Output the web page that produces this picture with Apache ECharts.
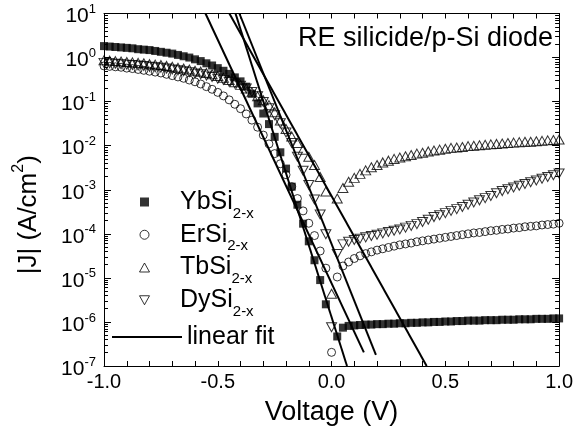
<!DOCTYPE html>
<html>
<head>
<meta charset="utf-8">
<script src="https://cdn.jsdelivr.net/npm/echarts@6/dist/echarts.min.js"></script>
<style>
  html, body { margin: 0; padding: 0; background: #fff; }
  #chart { width: 576px; height: 438px; }
</style>
</head>
<body>
<div id="chart"></div>
<script>
// voltage sweep (V), 0.025 V steps
var voltage = [-1, -0.975, -0.95, -0.925, -0.9, -0.875, -0.85, -0.825, -0.8, -0.775,
  -0.75, -0.725, -0.7, -0.675, -0.65, -0.625, -0.6, -0.575, -0.55, -0.525,
  -0.5, -0.475, -0.45, -0.425, -0.4, -0.375, -0.35, -0.325, -0.3, -0.275,
  -0.25, -0.225, -0.2, -0.175, -0.15, -0.125, -0.1, -0.075, -0.05, -0.025,
  0, 0.025, 0.05, 0.075, 0.1, 0.125, 0.15, 0.175, 0.2, 0.225,
  0.25, 0.275, 0.3, 0.325, 0.35, 0.375, 0.4, 0.425, 0.45, 0.475,
  0.5, 0.525, 0.55, 0.575, 0.6, 0.625, 0.65, 0.675, 0.7, 0.725,
  0.75, 0.775, 0.8, 0.825, 0.85, 0.875, 0.9, 0.925, 0.95, 0.975, 1];

// log10 |J| (null = off scale)
var ybLog = [0.26, 0.25, 0.24, 0.23, 0.22, 0.21, 0.19, 0.18, 0.17, 0.15,
  0.13, 0.11, 0.09, 0.06, 0.03, 0.00, -0.04, -0.08, -0.13, -0.18,
  -0.24, -0.30, -0.37, -0.45, -0.54, -0.66, -0.82, -1.04, -1.27, -1.51,
  -1.80, -2.15, -2.52, -2.93, -3.34, -3.77, -4.17, -4.60, -5.05, -5.60,
  null,
  -6.33, -6.13, -6.09, -6.08, -6.07, -6.06, -6.06, -6.05, -6.05, -6.04,
  -6.04, -6.03, -6.03, -6.02, -6.02, -6.01, -6.01, -6.00, -6.00, -5.99,
  -5.99, -5.98, -5.98, -5.97, -5.97, -5.97, -5.96, -5.96, -5.96, -5.95,
  -5.95, -5.95, -5.94, -5.94, -5.94, -5.93, -5.93, -5.93, -5.92, -5.92];

var erLog = [-0.19, -0.20, -0.21, -0.22, -0.24, -0.25, -0.27, -0.29, -0.31, -0.33,
  -0.35, -0.38, -0.41, -0.44, -0.47, -0.51, -0.55, -0.60, -0.66, -0.72,
  -0.79, -0.87, -0.96, -1.06, -1.16, -1.28, -1.42, -1.58, -1.76, -1.96,
  -2.18, -2.41, -2.66, -2.93, -3.20, -3.48, -3.76, -4.04, -4.39, -4.78,
  -6.69,
  -4.98, -4.73, -4.64, -4.56, -4.50, -4.45, -4.41, -4.37, -4.34, -4.31,
  -4.28, -4.25, -4.23, -4.21, -4.18, -4.16, -4.14, -4.12, -4.10, -4.08,
  -4.06, -4.04, -4.02, -4.00, -3.98, -3.97, -3.95, -3.93, -3.92, -3.90,
  -3.89, -3.87, -3.86, -3.84, -3.83, -3.82, -3.80, -3.79, -3.78, -3.76];

var tbLog = [-0.06, -0.07, -0.08, -0.09, -0.10, -0.11, -0.12, -0.13, -0.15, -0.16,
  -0.17, -0.19, -0.21, -0.23, -0.25, -0.27, -0.30, -0.32, -0.35, -0.38,
  -0.42, -0.46, -0.51, -0.56, -0.62, -0.70, -0.79, -0.88, -0.97, -1.08,
  -1.24, -1.43, -1.62, -1.79, -1.94, -2.09, -2.25, -2.44, -2.71, -3.04,
  -5.36,
  -3.20, -2.96, -2.82, -2.73, -2.64, -2.56, -2.49, -2.44, -2.38, -2.34,
  -2.30, -2.27, -2.24, -2.21, -2.18, -2.16, -2.13, -2.11, -2.09, -2.07,
  -2.05, -2.04, -2.03, -2.01, -2.00, -1.99, -1.98, -1.97, -1.96, -1.95,
  -1.94, -1.93, -1.92, -1.91, -1.91, -1.90, -1.89, -1.88, -1.87, -1.86];

var dyLog = [-0.12, -0.13, -0.14, -0.15, -0.16, -0.17, -0.18, -0.19, -0.21, -0.22,
  -0.23, -0.25, -0.27, -0.29, -0.31, -0.33, -0.36, -0.38, -0.41, -0.44,
  -0.48, -0.51, -0.55, -0.59, -0.64, -0.70, -0.78, -0.88, -1.01, -1.15,
  -1.31, -1.49, -1.70, -1.94, -2.25, -2.57, -2.89, -3.22, -3.56, -4.01,
  -6.12,
  -4.46, -4.24, -4.18, -4.14, -4.11, -4.08, -4.05, -4.02, -3.99, -3.96,
  -3.93, -3.90, -3.86, -3.82, -3.78, -3.73, -3.68, -3.62, -3.58, -3.53,
  -3.48, -3.44, -3.39, -3.34, -3.29, -3.24, -3.19, -3.14, -3.08, -3.03,
  -2.99, -2.95, -2.91, -2.87, -2.83, -2.79, -2.75, -2.71, -2.67, -2.63];

// linear fits: [V, log10 |J|] end points
var fitYb = [[-0.422, 1], [0.068, -7]];
var fitEr = [[-0.554, 1], [0.142, -6.69]];
var fitTb = [[-0.449, 1], [0.418, -7]];
var fitDy = [[-0.405, 1], [0.195, -6.75]];

var xLabels = [-1, -0.5, 0, 0.5, 1];
var decades = [1e-7, 1e-6, 1e-5, 1e-4, 1e-3, 1e-2, 1e-1, 1e0, 1e1];
var minorTicks = [2e-7, 3e-7, 4e-7, 5e-7, 6e-7, 7e-7, 8e-7, 9e-7,
  2e-6, 3e-6, 4e-6, 5e-6, 6e-6, 7e-6, 8e-6, 9e-6,
  2e-5, 3e-5, 4e-5, 5e-5, 6e-5, 7e-5, 8e-5, 9e-5,
  2e-4, 3e-4, 4e-4, 5e-4, 6e-4, 7e-4, 8e-4, 9e-4,
  2e-3, 3e-3, 4e-3, 5e-3, 6e-3, 7e-3, 8e-3, 9e-3,
  2e-2, 3e-2, 4e-2, 5e-2, 6e-2, 7e-2, 8e-2, 9e-2,
  0.2, 0.3, 0.4, 0.5, 0.6, 0.7, 0.8, 0.9,
  2, 3, 4, 5, 6, 7, 8, 9];

var font = 'Liberation Sans, Arial, Helvetica, sans-serif';

function points(logs) {
  var out = [];
  for (var i = 0; i < voltage.length; i++) {
    if (logs[i] !== null) out.push([voltage[i], Math.pow(10, logs[i])]);
  }
  return out;
}
function fitPoints(fit) {
  return fit.map(function (p) { return [p[0], Math.pow(10, p[1])]; });
}

var hollow = { color: 'rgba(0,0,0,0)', borderColor: '#000', borderWidth: 1 };
var legendRich = {
  m: { fontFamily: font, fontSize: 25, lineHeight: 28, color: '#000' },
  s: { fontFamily: font, fontSize: 15, lineHeight: 16, padding: [23, 0, 0, 0], color: '#000' }
};
var tickLine = { color: '#000', width: 1 };

function yAxisCfg(pos, ticks, len, showLine, showLabel) {
  return {
    type: 'log', logBase: 10, min: 1e-7, max: 10, position: pos,
    axisLine: { show: showLine, onZero: false, lineStyle: tickLine },
    axisTick: { show: true, inside: true, length: len, customValues: ticks, lineStyle: tickLine },
    axisLabel: showLabel ? {
      show: true, margin: 8, customValues: decades,
      formatter: function (v) { return '{b|10}{e|' + Math.round(Math.log10(v)) + '}'; },
      rich: {
        b: { fontFamily: font, fontSize: 21, lineHeight: 22, padding: [6, 0, 0, 0], color: '#000' },
        e: { fontFamily: font, fontSize: 13, lineHeight: 14, padding: [3, 0, 11, 0], color: '#000' }
      }
    } : { show: false },
    splitLine: { show: false }
  };
}

var chart = echarts.init(document.getElementById('chart'));
var option = {
  backgroundColor: '#fff',
  animation: false,
  title: {
    text: 'RE silicide/p-Si diode', right: 18, top: 20,
    textStyle: { fontFamily: font, fontSize: 27, fontWeight: 'normal', color: '#000' }
  },
  grid: { left: 104, right: 15, top: 10, bottom: 72 },
  legend: [{
    orient: 'vertical', left: 139, top: 183, padding: 0,
    itemWidth: 61, itemHeight: 9, itemGap: -5.25, selectedMode: false,
    data: [
      { name: 'YbSi', icon: 'path://M0,0L10,0L10,10L0,10Z', itemStyle: { color: '#000', borderWidth: 0 } },
      { name: 'ErSi', icon: 'circle', itemStyle: hollow },
      { name: 'TbSi', icon: 'path://M5,0L10,9L0,9Z', itemStyle: hollow },
      { name: 'DySi', icon: 'path://M0,0L10,0L5,9Z', itemStyle: hollow }
    ],
    formatter: function (name) { return '{m|' + name + '}{s|2-x}'; },
    textStyle: { rich: legendRich }
  }, {
    orient: 'vertical', left: 112, top: 318, padding: 0,
    itemWidth: 70, itemHeight: 9, selectedMode: false,
    data: [{ name: 'linear fit', icon: 'path://M0,0L70,0L70,2L0,2Z', itemStyle: { color: '#000', borderWidth: 0 } }],
    formatter: function (name) { return '{m|' + name + '}{s| }'; },
    textStyle: { rich: legendRich }
  }],
  xAxis: [{
    type: 'value', min: -1, max: 1, interval: 0.1, position: 'bottom',
    name: 'Voltage (V)', nameLocation: 'middle', nameGap: 33,
    nameTextStyle: { fontFamily: font, fontSize: 27, color: '#000' },
    axisLine: { onZero: false, lineStyle: tickLine },
    axisTick: { inside: true, length: 5, lineStyle: tickLine },
    axisLabel: {
      margin: 6, customValues: xLabels, fontFamily: font, fontSize: 20, color: '#000',
      formatter: function (v) { return v.toFixed(1); }
    },
    splitLine: { show: false }
  }, {
    type: 'value', min: -1, max: 1, interval: 0.1, position: 'top',
    axisLine: { onZero: false, lineStyle: tickLine },
    axisTick: { inside: true, length: 5, lineStyle: tickLine },
    axisLabel: { show: false },
    splitLine: { show: false }
  }],
  yAxis: [
    Object.assign(yAxisCfg('left', decades, 7, true, true), {
      name: '{t||J| (A/cm}{e|2}{t|)}', nameLocation: 'middle', nameGap: 62,
      nameTextStyle: {
        padding: [0, 50, 0, 0],
        rich: {
          t: { fontFamily: font, fontSize: 26, lineHeight: 30, padding: [4, 0, 0, 0], color: '#000' },
          e: { fontFamily: font, fontSize: 16, lineHeight: 18, padding: [0, 0, 16, 0], color: '#000' }
        }
      }
    }),
    yAxisCfg('left', minorTicks, 4, false, false),
    yAxisCfg('right', decades, 7, true, false),
    yAxisCfg('right', minorTicks, 4, false, false)
  ],
  series: [
    { name: 'YbSi', type: 'scatter', data: points(ybLog), symbol: 'rect', symbolSize: 8,
      itemStyle: { color: '#000' } },
    { name: 'ErSi', type: 'scatter', data: points(erLog), symbol: 'circle', symbolSize: 8,
      itemStyle: hollow },
    { name: 'TbSi', type: 'scatter', data: points(tbLog), symbol: 'triangle', symbolSize: [10, 9],
      itemStyle: hollow },
    { name: 'DySi', type: 'scatter', data: points(dyLog), symbol: 'triangle', symbolRotate: 180,
      symbolSize: [10, 9], itemStyle: hollow },
    { name: 'linear fit', type: 'line', data: fitPoints(fitYb), symbol: 'none',
      lineStyle: { color: '#000', width: 2 }, itemStyle: { color: '#000' } },
    { name: 'linear fit', type: 'line', data: fitPoints(fitEr), symbol: 'none',
      lineStyle: { color: '#000', width: 2 }, itemStyle: { color: '#000' } },
    { name: 'linear fit', type: 'line', data: fitPoints(fitTb), symbol: 'none',
      lineStyle: { color: '#000', width: 2 }, itemStyle: { color: '#000' } },
    { name: 'linear fit', type: 'line', data: fitPoints(fitDy), symbol: 'none',
      lineStyle: { color: '#000', width: 2 }, itemStyle: { color: '#000' } }
  ]
};
chart.setOption(option);
</script>
</body>
</html>
